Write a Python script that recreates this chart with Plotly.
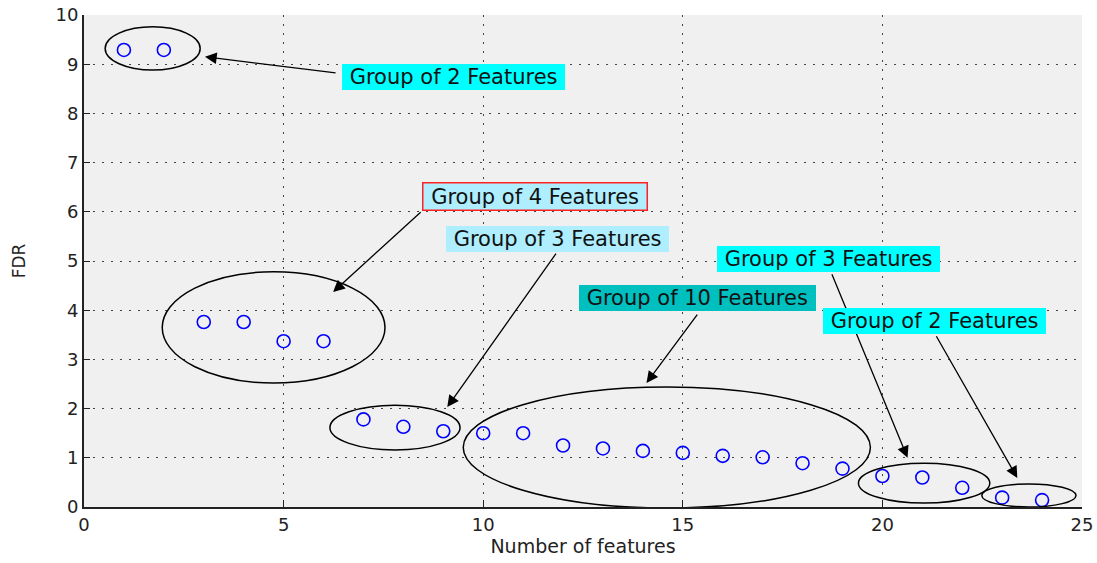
import plotly.graph_objects as go

# ---- data ----
num_features = list(range(1, 25))
fdr = [9.29, 9.29, 3.76, 3.76, 3.37, 3.37, 1.78, 1.63, 1.54, 1.50, 1.50, 1.25,
       1.19, 1.14, 1.10, 1.04, 1.01, 0.89, 0.78, 0.63, 0.60, 0.39, 0.19, 0.14]

x_ticks = [0, 5, 10, 15, 20, 25]
y_ticks = list(range(0, 11))

# group ellipses (x0, x1, y0, y1) in data units
group_ellipses = [
    (0.53, 2.91, 8.88, 9.76),
    (1.96, 7.54, 2.52, 4.78),
    (6.16, 9.42, 1.16, 2.07),
    (9.50, 19.70, -0.02, 2.44),
    (19.40, 22.69, 0.08, 0.89),
    (22.49, 24.85, 0.0, 0.47),
]

# labels: text, box centre (x, y), bg colour, border colour
label_texts = ["Group of 2 Features", "Group of 4 Features", "Group of 3 Features",
               "Group of 10 Features", "Group of 3 Features", "Group of 2 Features"]
label_x = [9.25, 11.30, 11.85, 15.36, 18.65, 21.30]
label_y = [8.74, 6.32, 5.45, 4.25, 5.04, 3.78]
label_bg = ["#00ffff", "#aeeefe", "#aeeefe", "#00bfbf", "#00ffff", "#00ffff"]
label_border = [None, "#ff2020", None, None, None, None]

# arrows: tail (x, y) -> tip (x, y)
arrow_tail_x = [6.34, 8.47, 11.85, 15.39, 18.72, 21.33]
arrow_tail_y = [8.82, 6.02, 5.18, 3.94, 4.76, 3.50]
arrow_tip_x = [3.03, 6.24, 9.10, 14.09, 20.63, 23.38]
arrow_tip_y = [9.15, 4.37, 2.03, 2.52, 1.00, 0.59]

FONT = "DejaVu Sans"

fig = go.Figure()
fig.add_trace(go.Scatter(
    x=num_features, y=fdr, mode="markers",
    marker=dict(symbol="circle-open", size=13, color="#0000ff",
                line=dict(width=1.6, color="#0000ff")),
    showlegend=False, hoverinfo="x+y", cliponaxis=False,
))

for (x0, x1, y0, y1) in group_ellipses:
    fig.add_shape(type="circle", xref="x", yref="y", x0=x0, x1=x1, y0=y0, y1=y1,
                  line=dict(color="black", width=1.5), layer="above")

for tx, ty, hx, hy in zip(arrow_tail_x, arrow_tail_y, arrow_tip_x, arrow_tip_y):
    fig.add_annotation(x=hx, y=hy, ax=tx, ay=ty, xref="x", yref="y",
                       axref="x", ayref="y", text="", showarrow=True,
                       arrowhead=2, arrowsize=1.8, arrowwidth=1.3,
                       arrowcolor="black", standoff=0, startstandoff=0)

for t, x, y, bg, bc in zip(label_texts, label_x, label_y, label_bg, label_border):
    fig.add_annotation(x=x, y=y, xref="x", yref="y",
                       text="\u00a0" + t + "\u00a0", showarrow=False,
                       font=dict(family=FONT, size=21, color="#111111"),
                       bgcolor=bg, bordercolor=bc if bc else bg,
                       borderwidth=1.5 if bc else 0, borderpad=1)

fig.update_layout(
    width=1097, height=563,
    margin=dict(l=84, r=15, t=15, b=56),
    paper_bgcolor="white", plot_bgcolor="#f0f0f0",
    font=dict(family=FONT, size=18, color="#222222"),
    xaxis=dict(range=[0, 25], tickvals=x_ticks, ticks="inside", ticklen=7,
               tickcolor="#222", showline=True, linecolor="#222", linewidth=2,
               showgrid=True, gridcolor="#444", gridwidth=1, griddash="2px,7px",
               zeroline=False, mirror=False, automargin=False,
               title=dict(text="Number of features", font=dict(size=19), standoff=2)),
    yaxis=dict(range=[0, 10], tickvals=y_ticks, ticks="inside", ticklen=6,
               tickcolor="#222", showline=True, linecolor="#222", linewidth=2,
               showgrid=True, gridcolor="#444", gridwidth=1, griddash="2px,7px",
               zeroline=False, automargin=False,
               title=dict(text="FDR", font=dict(size=17), standoff=26)),
)

fig.write_html(
    "out.html",
    config={"displayModeBar": False},
    post_script="document.body.style.margin='0';document.body.style.overflow='hidden';",
)
